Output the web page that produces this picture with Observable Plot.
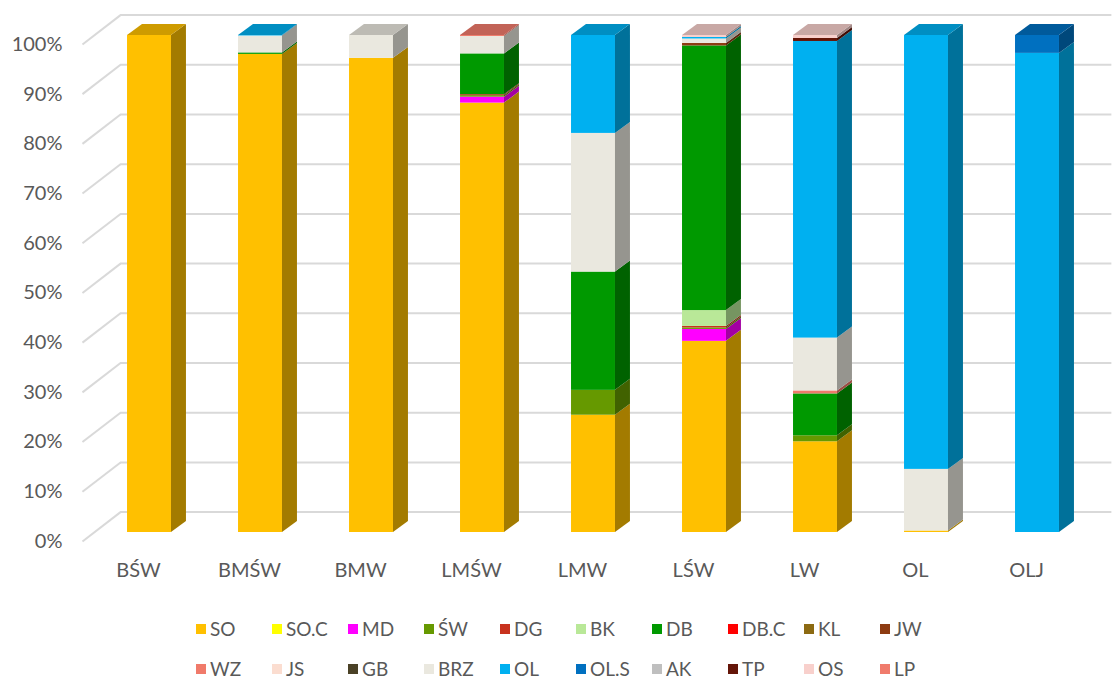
<!DOCTYPE html>
<html><head><meta charset="utf-8">
<script src="https://cdn.jsdelivr.net/npm/d3@7"></script>
<script src="https://cdn.jsdelivr.net/npm/@observablehq/plot@0.6"></script>
<style>
body{margin:0;background:#fff;font-family:Lato,"Open Sans",sans-serif;}
#wrap{position:relative;width:1112px;height:681px;overflow:hidden}
#legend{position:absolute;left:0;top:609px;width:1112px;}
.row{display:flex;height:40px;align-items:center;padding-left:196px}
.item{width:76px;display:flex;align-items:center;font-size:19px;line-height:22px;color:#595959;white-space:nowrap}
.sw{width:10px;height:10px;margin-right:4px;flex:none}
</style></head>
<body><div id="wrap"><div id="chart"></div><div id="legend"></div></div>
<script>
const categories = ["BŚW","BMŚW","BMW","LMŚW","LMW","LŚW","LW","OL","OLJ"];
const series = ["SO","SO.C","MD","ŚW","DG","BK","DB","DB.C","KL","JW","WZ","JS","GB","BRZ","OL","OL.S","AK","TP","OS","LP"];
const seriesColors = ["#FFC000","#FFFF00","#FF00FF","#669900","#C8321E","#B9E898","#009900","#FF0000","#8C6A12","#8D3B11","#F07A6A","#FBDDD0","#4A4126","#EAE8DF","#00B0F0","#0070C0","#BFBFBF","#641508","#F8D0CC","#F07B6C"];
const SO   = [100, 96.2, 95.4, 86.4, 23.6, 38.5, 18.2, 0.3, 0];
const SO_C = [0, 0, 0, 0, 0, 0, 0, 0, 0];
const MD   = [0, 0, 0, 1.2, 0, 2.4, 0, 0, 0];
const SW   = [0, 0, 0, 0.3, 5.0, 0.3, 1.2, 0, 0];
const DG   = [0, 0, 0, 0.2, 0, 0.3, 0, 0, 0];
const BK   = [0, 0, 0, 0, 0, 3.2, 0, 0, 0];
const DB   = [0, 0.3, 0, 8.2, 23.8, 53.3, 8.4, 0, 0];
const DB_C = [0, 0, 0, 0, 0, 0, 0, 0, 0];
const KL   = [0, 0, 0, 0, 0, 0, 0, 0, 0];
const JW   = [0, 0, 0, 0, 0, 0.5, 0, 0, 0];
const WZ   = [0, 0, 0, 0, 0, 0, 0.6, 0, 0];
const JS   = [0, 0, 0, 0, 0, 0, 0, 0, 0];
const GB   = [0, 0, 0, 0, 0, 0, 0, 0, 0];
const BRZ  = [0, 3.4, 4.6, 3.5, 27.9, 0.9, 10.6, 12.4, 0];
const OL   = [0, 0.1, 0, 0, 19.7, 0.3, 59.5, 87.3, 96.4];
const OL_S = [0, 0, 0, 0, 0, 0, 0, 0, 3.6];
const AK   = [0, 0, 0, 0, 0, 0, 0, 0, 0];
const TP   = [0, 0, 0, 0, 0, 0, 0.6, 0, 0];
const OS   = [0, 0, 0, 0, 0, 0.4, 0.6, 0, 0];
const LP   = [0, 0, 0, 0.2, 0, 0, 0, 0, 0];
const values = [SO,SO_C,MD,SW,DG,BK,DB,DB_C,KL,JW,WZ,JS,GB,BRZ,OL,OL_S,AK,TP,OS,LP];
const yTicks = [0,10,20,30,40,50,60,70,80,90,100];

// 3D styling constants
const HW = 0.198, DX = 0.135, DY = 2.21, GY = 4.1, GF = -1.8;
const darken = (c, k) => d3.color(c).darker(k).formatHex();

const fronts = [], sides = [], tops = [];
categories.forEach((c, i) => {
  const total = d3.sum(values, v => v[i]);
  let acc = 0, topK = -1;
  series.forEach((s, k) => {
    const v = values[k][i] / total * 100;
    if (!(v > 0)) return;
    const lo = acc, hi = acc + v; acc = hi; topK = k;
    fronts.push({i, s, lo, hi, fill: seriesColors[k]});
    const id = i + "-" + k, f = darken(seriesColors[k], 1.25);
    sides.push({id, x: i + HW, y1: lo, y2: hi, fill: f});
    sides.push({id, x: i + HW + DX, y1: lo + DY, y2: hi + DY, fill: f});
  });
  const tf = darken(seriesColors[topK], 0.6);
  tops.push({id: i, y: acc, x1: i - HW, x2: i + HW, fill: tf});
  tops.push({id: i, y: acc + DY, x1: i - HW + DX, x2: i + HW + DX, fill: tf});
});

const textFill = "#595959";
const chart = Plot.plot({
  width: 1112, height: 600,
  marginLeft: 38, marginRight: 19.5, marginTop: 35, marginBottom: 68,
  x: {type: "linear", domain: [-1, 8.5], axis: null},
  y: {domain: [0, 100], axis: null},
  color: {type: "identity"},
  style: {fontFamily: "Lato, 'Open Sans', sans-serif", background: "white"},
  marks: [
    Plot.link(yTicks, {x1: -0.604, x2: -0.261, y1: d => d + GF, y2: d => d + GY, stroke: "#d9d9d9", strokeWidth: 2}),
    Plot.ruleY(yTicks, {y: d => d + GY, x1: -0.261, x2: 8.67, stroke: "#d9d9d9", strokeWidth: 2}),
    Plot.rect(fronts, {x1: d => d.i - HW, x2: d => d.i + HW, y1: "lo", y2: "hi", fill: "fill"}),
    Plot.areaY(sides, {x: "x", y1: "y1", y2: "y2", z: "id", fill: "fill"}),
    Plot.areaX(tops, {y: "y", x1: "x1", x2: "x2", z: "id", fill: "fill"}),
    Plot.text(yTicks, {x: -0.784, y: d => d + GF, text: d => d + "%", textAnchor: "end", fontSize: 20, fill: textFill}),
    Plot.text(categories, {x: (d, i) => i, y: 0, dy: 38, dx: -11, text: d => d, fontSize: 20, fill: textFill})
  ]
});
document.getElementById("chart").appendChild(chart);

const legend = document.getElementById("legend");
for (let r = 0; r < 2; r++) {
  const row = document.createElement("div");
  row.className = "row";
  for (let k = r * 10; k < r * 10 + 10; k++) {
    const it = document.createElement("div");
    it.className = "item";
    const sw = document.createElement("span");
    sw.className = "sw"; sw.style.background = seriesColors[k];
    const tx = document.createElement("span");
    tx.textContent = series[k];
    it.appendChild(sw); it.appendChild(tx);
    row.appendChild(it);
  }
  legend.appendChild(row);
}
</script>
</body></html>
